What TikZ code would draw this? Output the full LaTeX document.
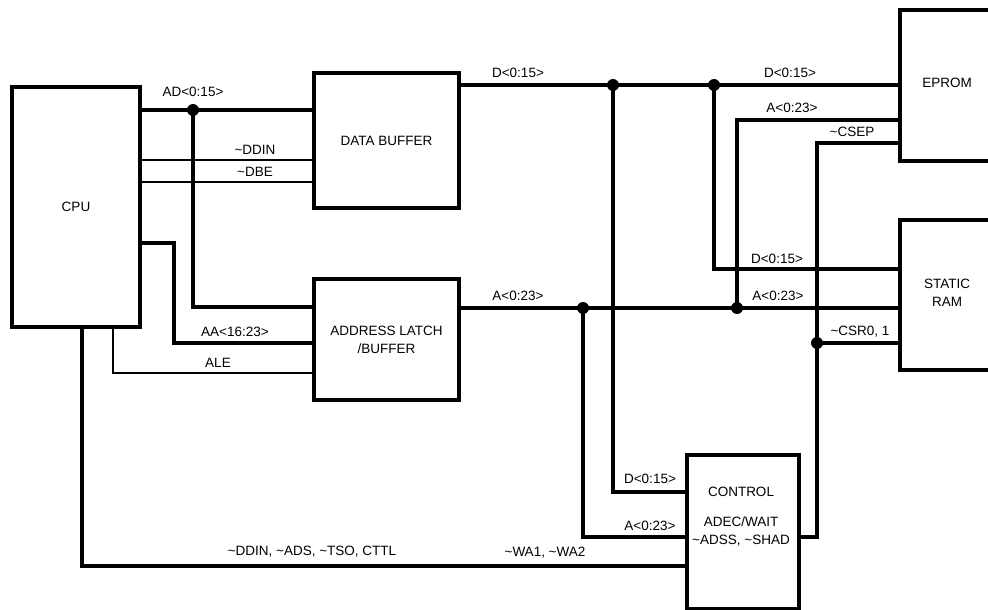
\documentclass[tikz,border=0pt]{standalone}
\usepackage{fontspec}
\setmainfont{Liberation Sans}
\newcommand{\tld}{\textasciitilde}
\begin{document}
\begin{tikzpicture}[x=1pt,y=-1pt,
  box/.style={draw,line width=4pt,fill=white,rectangle,inner sep=0pt,anchor=north west},
  bus/.style={line width=4.5pt},
  sig/.style={line width=2.2pt},
  dot/.style={circle,fill=black,inner sep=0pt,minimum size=12pt},
  lbl/.style={inner sep=0pt,font=\fontsize{13.5}{15}\selectfont},
  btxt/.style={inner sep=0pt,align=center,font=\fontsize{13.5}{18}\selectfont}]
\clip (0,0) rectangle (988,610);
\fill[white] (0,0) rectangle (988,610);
% boxes
\node[box,minimum width=128pt,minimum height=240pt] (cpu) at (10,85) {};
\node[box,minimum width=145pt,minimum height=135pt] (db) at (312,71) {};
\node[box,minimum width=145pt,minimum height=121pt] (al) at (312,277) {};
\node[box,minimum width=98pt,minimum height=151pt] (eprom) at (898,8) {};
\node[box,minimum width=98pt,minimum height=150pt] (ram) at (898,218) {};
\node[box,minimum width=112pt,minimum height=154pt] (ctrl) at (685,453) {};
% box texts
\node[btxt] (tcpu) at (cpu.center) {CPU};
\node[btxt] (tdb) at (db.center) {DATA BUFFER};
\node[btxt] (tal) at (al.center) {ADDRESS LATCH\\/BUFFER};
\node[btxt] (tep) at (947,83) {EPROM};
\node[btxt] (tram) at (947,293) {STATIC\\RAM};
\node[btxt] (tc1) at (741,492) {CONTROL};
\node[btxt] (tc2) at (741,531) {ADEC/WAIT\\\tld ADSS, \tld SHAD};
% coordinates
\coordinate (jAD) at (193,110);
\coordinate (adb) at (193,307);
\coordinate (yddin) at (0,160);
\coordinate (ydbe) at (0,182);
\coordinate (aa1) at (174,243);
\coordinate (aa2) at (174,343);
\coordinate (ale) at (113,373);
\coordinate (bot) at (82,566);
\coordinate (ydb) at (0,85);
\coordinate (jD1) at (613,85);
\coordinate (jD2) at (714,85);
\coordinate (d1b) at (613,492);
\coordinate (d2b) at (714,269);
\coordinate (yab) at (0,308);
\coordinate (jA1) at (583,308);
\coordinate (jA2) at (737,308);
\coordinate (a1b) at (583,537);
\coordinate (a2t) at (737,120);
\coordinate (cs1) at (817,143);
\coordinate (cs2) at (817,537);
\coordinate (jCS) at (817,343);
% wires
\draw[bus] (jAD -| cpu.east) -- (jAD -| db.west);
\draw[bus] (jAD) -- (adb) -- (adb -| al.west);
\draw[sig] (yddin -| cpu.east) -- (yddin -| db.west);
\draw[sig] (ydbe -| cpu.east) -- (ydbe -| db.west);
\draw[bus] (aa1 -| cpu.east) -- (aa1) -- (aa2) -- (aa2 -| al.west);
\draw[sig] (ale |- cpu.south) -- (ale) -- (ale -| al.west);
\draw[bus] (bot |- cpu.south) -- (bot) -- (bot -| ctrl.west);
\draw[bus] (ydb -| db.east) -- (ydb -| eprom.west);
\draw[bus] (jD1) -- (d1b) -- (d1b -| ctrl.west);
\draw[bus] (jD2) -- (d2b) -- (d2b -| ram.west);
\draw[bus] (yab -| al.east) -- (yab -| ram.west);
\draw[bus] (jA1) -- (a1b) -- (a1b -| ctrl.west);
\draw[bus] (jA2) -- (a2t) -- (a2t -| eprom.west);
\draw[bus] (cs1 -| eprom.west) -- (cs1) -- (cs2) -- (cs2 -| ctrl.east);
\draw[bus] (jCS) -- (jCS -| ram.west);
% dots
\node[dot] (dAD) at (jAD) {};
\node[dot] (dD1) at (jD1) {};
\node[dot] (dD2) at (jD2) {};
\node[dot] (dA1) at (jA1) {};
\node[dot] (dA2) at (jA2) {};
\node[dot] (dCS) at (jCS) {};
% labels
\node[lbl] (l1) at (193,92) {AD<0:15>};
\node[lbl] (l2) at (255,150) {\tld DDIN};
\node[lbl] (l3) at (255,172) {\tld DBE};
\node[lbl] (l4) at (235,332) {AA<16:23>};
\node[lbl] (l5) at (218,363) {ALE};
\node[lbl] (l6) at (312,552) {\tld DDIN, \tld ADS, \tld TSO, CTTL};
\node[lbl] (l7) at (545,553) {\tld WA1, \tld WA2};
\node[lbl] (l8) at (518,73) {D<0:15>};
\node[lbl] (l9) at (790,73) {D<0:15>};
\node[lbl] (l10) at (792,108) {A<0:23>};
\node[lbl] (l11) at (852,132) {\tld CSEP};
\node[lbl] (l12) at (777,259) {D<0:15>};
\node[lbl] (l13) at (778,296) {A<0:23>};
\node[lbl] (l14) at (860,332) {\tld CSR0, 1};
\node[lbl] (l15) at (518,296) {A<0:23>};
\node[lbl] (l16) at (650,479) {D<0:15>};
\node[lbl] (l17) at (650,526) {A<0:23>};
\end{tikzpicture}
\end{document}
